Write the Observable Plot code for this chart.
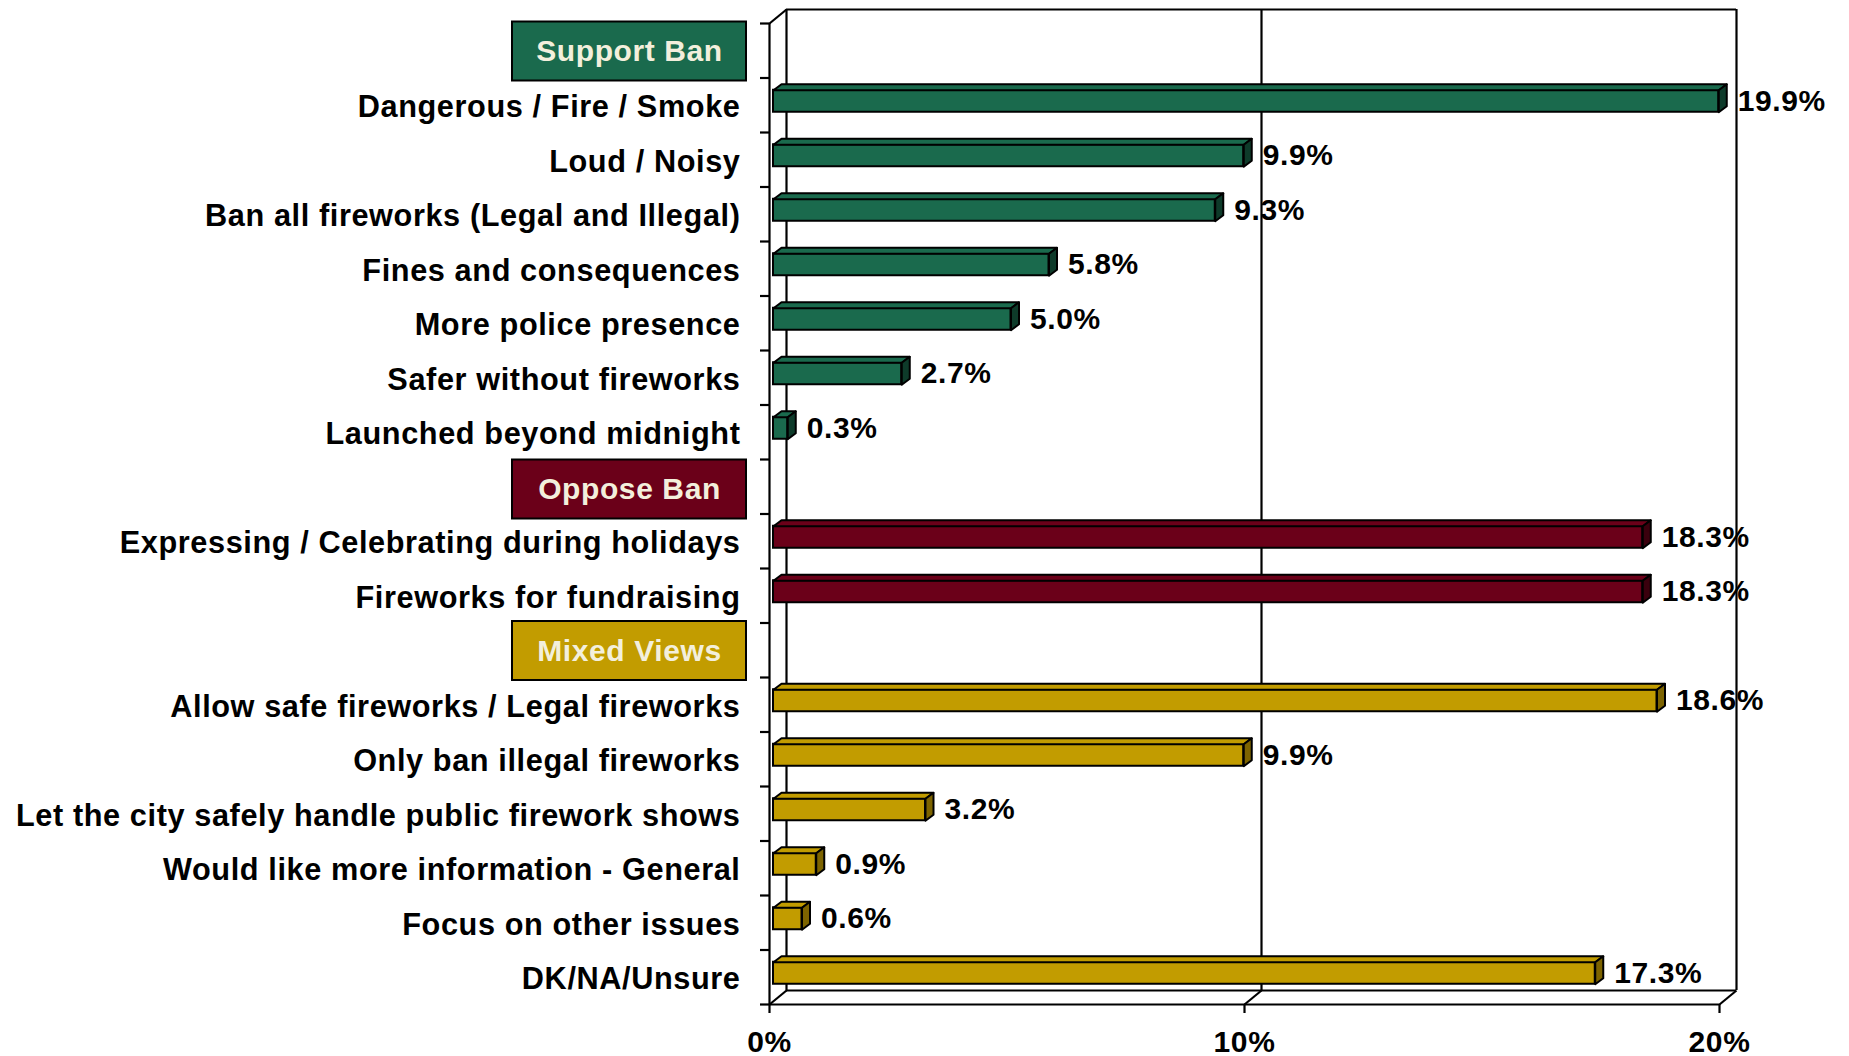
<!DOCTYPE html>
<html>
<head>
<meta charset="utf-8">
<script src="https://cdn.jsdelivr.net/npm/d3@7"></script>
<script src="https://cdn.jsdelivr.net/npm/@observablehq/plot@0.6"></script>
<style>
  html, body { margin: 0; padding: 0; background: #ffffff; }
  #chart svg { display: block; }
</style>
</head>
<body>
<div id="chart"></div>
<script>
// ---- Data ----
const groups = ["Support Ban", "Oppose Ban", "Mixed Views"];
const groupColors = ["#1a6a4d", "#6b0019", "#c29c00"];
const groupSideColors = ["#0e3b2a", "#3a000d", "#7d6400"];
const categories = [
  "Dangerous / Fire / Smoke",
  "Loud / Noisy",
  "Ban all fireworks (Legal and Illegal)",
  "Fines and consequences",
  "More police presence",
  "Safer without fireworks",
  "Launched beyond midnight",
  "Expressing / Celebrating during holidays",
  "Fireworks for fundraising",
  "Allow safe fireworks / Legal fireworks",
  "Only ban illegal fireworks",
  "Let the city safely handle public firework shows",
  "Would like more information - General",
  "Focus on other issues",
  "DK/NA/Unsure"
];
const categoryGroup = [0, 0, 0, 0, 0, 0, 0, 1, 1, 2, 2, 2, 2, 2, 2];
const values = [19.9, 9.9, 9.3, 5.8, 5.0, 2.7, 0.3, 18.3, 18.3, 18.6, 9.9, 3.2, 0.9, 0.6, 17.3];
const xTicks = [0, 10, 20];
const xMax = 20;

// ---- Rows (header rows + item rows) ----
const rows = [];
let r = 0;
groups.forEach((g, gi) => {
  rows.push({type: "header", label: g, group: gi, row: r++});
  categories.forEach((c, i) => {
    if (categoryGroup[i] === gi) rows.push({type: "item", label: c, value: values[i], group: gi, row: r++});
  });
});
const nRows = r;
const headers = rows.filter(d => d.type === "header");
const items = rows.filter(d => d.type === "item");

// ---- Layout ----
const W = 1849, H = 1056;
const mL = 769, mR = 130, mT = 23, mB = 52;
const pxX = (W - mL - mR) / xMax;
const pxY = (H - mT - mB) / nRows;
const wallDX = 17, wallDY = 14;      // depth of the chart box (px)
const barDX = 8, barDY = 6;          // depth of each bar (px)
const barOffX = 4, barOffY = -4;     // bar front plane offset (px)
const half = 11 / pxY;               // half bar height in row units
const FONT = "'Liberation Sans', Arial, Helvetica, sans-serif";

// polygons for top and side faces (in data units)
const bdx = barDX / pxX, bdy = barDY / pxY;
const faces = [];
items.forEach((d, i) => {
  const yT = d.row + 0.5 - half, yB = d.row + 0.5 + half, v = d.value;
  const top = [[0, yT], [v, yT], [v + bdx, yT - bdy], [bdx, yT - bdy], [0, yT]];
  const side = [[v, yT], [v + bdx, yT - bdy], [v + bdx, yB - bdy], [v, yB], [v, yT]];
  top.forEach(([x, y]) => faces.push({id: "t" + i, kind: "top", group: d.group, x, y}));
  side.forEach(([x, y]) => faces.push({id: "s" + i, kind: "side", group: d.group, x, y}));
});

const diag = [[0, 0], [0, nRows], [10, nRows], [20, nRows]].map(([x, y]) => ({x, y}));
const wdx = wallDX / pxX, wdy = wallDY / pxY;

const lineStyle = {stroke: "#000", strokeWidth: 2.2};

const marks = [];
// back wall & floor
marks.push(Plot.ruleX(xTicks, {y1: 0, y2: nRows, dx: wallDX, dy: -wallDY, ...lineStyle}));
marks.push(Plot.ruleY([0, nRows], {x1: 0, x2: xMax, dx: wallDX, dy: -wallDY, ...lineStyle}));
marks.push(Plot.link(diag, {x1: "x", y1: "y", x2: d => d.x + wdx, y2: d => d.y - wdy, ...lineStyle}));
// front axes lines
marks.push(Plot.ruleY([nRows], {x1: 0, x2: xMax, ...lineStyle}));
marks.push(Plot.ruleX([0], {y1: 0, y2: nRows, ...lineStyle}));
// ticks
marks.push(Plot.axisY({ticks: d3.range(nRows + 1), tickSize: 9, tickFormat: () => "", strokeWidth: 2.2, stroke: "#000", label: null}));
marks.push(Plot.axisX({ticks: xTicks, tickSize: 9, tickPadding: 17, tickFormat: d => d + "%", strokeWidth: 2.2, stroke: "#000", fill: "#000", fontSize: 30, fontWeight: "bold", label: null}));

// bars
groups.forEach((g, gi) => {
  marks.push(Plot.rect(items.filter(d => d.group === gi), {
    x1: 0, x2: "value",
    y1: d => d.row + 0.5 - half, y2: d => d.row + 0.5 + half,
    fill: groupColors[gi], stroke: "#000", strokeWidth: 2, dx: barOffX, dy: barOffY
  }));
  marks.push(Plot.line(faces.filter(f => f.group === gi && f.kind === "top"), {
    x: "x", y: "y", z: "id", fill: groupColors[gi], stroke: "#000", strokeWidth: 2,
    strokeLinejoin: "round", dx: barOffX, dy: barOffY
  }));
  marks.push(Plot.line(faces.filter(f => f.group === gi && f.kind === "side"), {
    x: "x", y: "y", z: "id", fill: groupSideColors[gi], stroke: "#000", strokeWidth: 2,
    strokeLinejoin: "round", dx: barOffX, dy: barOffY
  }));
});

// value labels
marks.push(Plot.text(items, {
  x: "value", y: d => d.row + 0.5, dx: 23, dy: -4, textAnchor: "start",
  text: d => d.value.toFixed(1) + "%", fill: "#000", fontSize: 30, fontWeight: "bold"
}));
// category labels
marks.push(Plot.text(items, {
  x: 0, y: d => d.row + 0.5, dx: -29, dy: 2, textAnchor: "end",
  text: "label", fill: "#000", fontSize: 30.7, fontWeight: "bold"
}));
// header boxes
groups.forEach((g, gi) => {
  marks.push(Plot.rect(headers.filter(d => d.group === gi), {
    x1: 0, x2: 0, y1: "row", y2: d => d.row + 1,
    insetLeft: -257, insetRight: 23, insetTop: gi === 1 ? 0.5 : -1.5, insetBottom: gi === 1 ? -5 : -3,
    fill: groupColors[gi], stroke: "#000", strokeWidth: 2
  }));
});
marks.push(Plot.text(headers, {
  x: 0, y: d => d.row + 0.5 + (d.group === 1 ? 3 : 1) / pxY, dx: -140, text: "label",
  textAnchor: "middle", fill: "#f3efdc", fontSize: 30, fontWeight: "bold"
}));

const chart = Plot.plot({
  width: W, height: H,
  marginLeft: mL, marginRight: mR, marginTop: mT, marginBottom: mB,
  x: {domain: [0, xMax]},
  y: {domain: [0, nRows], reverse: true},
  style: {fontFamily: FONT, fontSize: "30px", fontWeight: "bold", letterSpacing: "0.6px", color: "#000", background: "#fff", overflow: "visible"},
  marks
});
document.getElementById("chart").appendChild(chart);
</script>
</body>
</html>
